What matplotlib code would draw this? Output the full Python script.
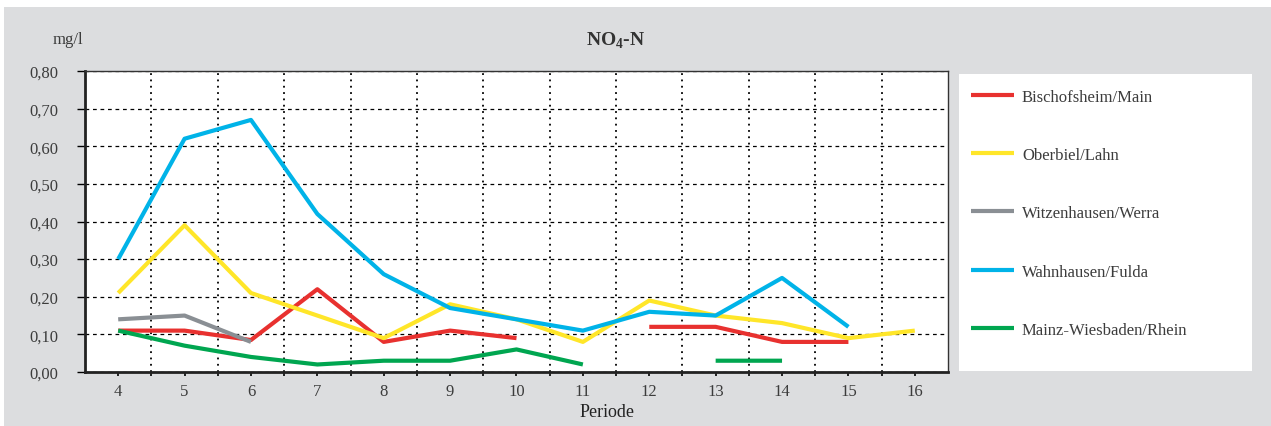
import numpy as np
import matplotlib
matplotlib.use("Agg")
import matplotlib.pyplot as plt
from matplotlib.patches import Rectangle

plt.rcParams['font.family'] = ['Liberation Serif', 'DejaVu Serif']
plt.rcParams['mathtext.fontset'] = 'custom'
plt.rcParams['mathtext.rm'] = 'Liberation Serif'
plt.rcParams['mathtext.bf'] = 'Liberation Serif:bold'

# data (NaN = no value)
perioden = [4, 5, 6, 7, 8, 9, 10, 11, 12, 13, 14, 15, 16]
bischofsheim = [0.11, 0.11, 0.085, 0.22, 0.08, 0.11, 0.09, np.nan, 0.12, 0.12, 0.08, 0.08, np.nan]
oberbiel = [0.21, 0.39, 0.21, 0.15, 0.09, 0.18, 0.14, 0.08, 0.19, 0.15, 0.13, 0.09, 0.11]
witzenhausen = [0.14, 0.15, 0.08, np.nan, np.nan, np.nan, np.nan, np.nan, np.nan, np.nan, np.nan, np.nan, np.nan]
wahnhausen = [0.30, 0.62, 0.67, 0.42, 0.26, 0.17, 0.14, 0.11, 0.16, 0.15, 0.25, 0.12, np.nan]
mainz = [0.11, 0.07, 0.04, 0.02, 0.03, 0.03, 0.06, 0.02, np.nan, 0.03, 0.03, np.nan, np.nan]

series = [
    ("Bischofsheim/Main", bischofsheim, "#e8312f"),
    ("Oberbiel/Lahn", oberbiel, "#ffe629"),
    ("Witzenhausen/Werra", witzenhausen, "#8a8f94"),
    ("Wahnhausen/Fulda", wahnhausen, "#00b3e8"),
    ("Mainz-Wiesbaden/Rhein", mainz, "#00a650"),
]

W, H = 1271, 427
fig = plt.figure(figsize=(W / 100, H / 100), dpi=100, facecolor="white")
# grey panel behind everything
fig.patches.append(Rectangle((4 / W, 0), 1 - 4 / W, 1 - 8 / H, transform=fig.transFigure,
                             facecolor="#dcdddf", edgecolor="none", zorder=-10))

ax = fig.add_axes([85 / W, 1 - 373 / H, (948 - 85) / W, (373 - 72) / H])
ax.set_facecolor("white")

x = np.array(perioden)
for label, vals, col in series:
    ax.plot(x, vals, color=col, lw=3.0, label=label, solid_capstyle="butt", zorder=3)

ax.set_xlim(3.5, 16.5)
ax.set_ylim(0, 0.8)
ax.set_yticks(np.arange(0, 0.81, 0.1))
ax.set_yticklabels([f"{v:.2f}".replace(".", ",") for v in np.arange(0, 0.81, 0.1)])
ax.set_xticks(x)
ax.set_xticklabels([str(p) for p in perioden])
ax.set_xticks(np.arange(4.5, 16.5, 1), minor=True)

txt_col = "#3c3c3c"
ax.tick_params(axis="y", direction="out", length=6, width=1, pad=13, labelsize=12, labelcolor=txt_col)
ax.tick_params(axis="x", which="both", direction="out", length=3, width=1.2, pad=5, labelsize=12,
               labelcolor=txt_col)

ax.grid(axis="y", which="major", color="black", ls=(0, (3, 3)), lw=0.9)
ax.grid(axis="x", which="minor", color="black", ls=(0, (1, 2.5)), lw=1.3)
ax.grid(axis="x", which="major", visible=False)

for s in ["left", "bottom"]:
    ax.spines[s].set_linewidth(2)
    ax.spines[s].set_color("#222222")
for s in ["top", "right"]:
    ax.spines[s].set_linewidth(1)
    ax.spines[s].set_color("#333333")

fig.text(616 / W, 1 - 41 / H, r"NO$_\mathbf{4}$-N", ha="center", va="center", fontsize=14,
         fontweight="bold", color="#333333")
fig.text(83 / W, 1 - 40 / H, "mg/l", ha="right", va="center", fontsize=12, color=txt_col)
fig.text(607 / W, 1 - 413 / H, "Periode", ha="center", va="center", fontsize=13, color="#222222")

# legend in its own white box
lax = fig.add_axes([959 / W, 1 - 372 / H, (1252 - 959) / W, (372 - 75) / H])
lax.set_facecolor("white")
lax.set_xticks([])
lax.set_yticks([])
for s in lax.spines.values():
    s.set_visible(False)
handles, labels = ax.get_legend_handles_labels()
lax.legend(handles, labels, loc="upper left", frameon=False, fontsize=12, handlelength=2.6,
           handletextpad=0.48, labelspacing=2.54, borderaxespad=0.3, bbox_to_anchor=(0.0, 0.99),
           labelcolor=txt_col)

fig.savefig("out.png", dpi=100, facecolor="white")
